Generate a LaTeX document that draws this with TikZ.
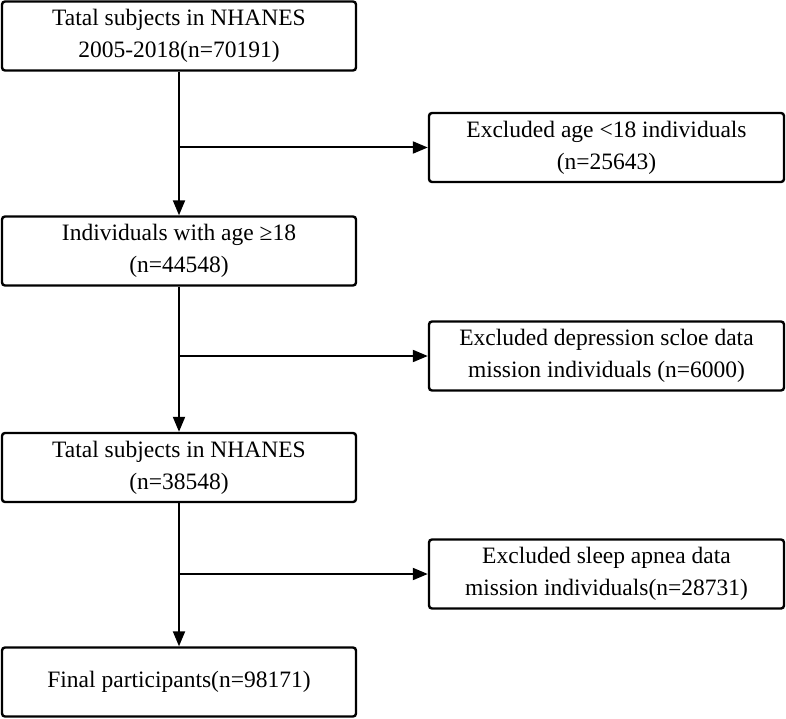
\documentclass[tikz,border=0pt]{standalone}
\usepackage{fontspec}
\setmainfont{Liberation Serif}
\usetikzlibrary{arrows.meta}
\begin{document}
\begin{tikzpicture}[x=1pt,y=-1pt,
  box/.style={draw, line width=2.4pt, rounded corners=3pt, minimum width=354pt, minimum height=69pt,
    inner sep=0pt, align=center, font=\fontsize{23.5}{32}\selectfont},
  arr/.style={line width=2pt, -{Triangle[length=15pt,width=12pt]}},
  ln/.style={line width=2pt}]
\useasboundingbox (0,0) rectangle (786,719);
\node[box] (b1) at (179,36) {Tatal subjects in NHANES\\2005-2018(n=70191)};
\node[box] (b2) at (179,251) {Individuals with age ≥18\\(n=44548)};
\node[box] (b3) at (179,467.5) {Tatal subjects in NHANES\\(n=38548)};
\node[box] (b4) at (179,682) {Final participants(n=98171)};
\node[box, minimum width=355pt] (r1) at (606.5,147.5) {Excluded age <18 individuals\\(n=25643)};
\node[box, minimum width=355pt] (r2) at (606.5,356) {Excluded depression scloe data\\mission individuals (n=6000)};
\node[box, minimum width=355pt] (r3) at (606.5,574) {Excluded sleep apnea data\\mission individuals(n=28731)};
\coordinate (j1) at (b1.south |- r1.west);
\coordinate (j2) at (b2.south |- r2.west);
\coordinate (j3) at (b3.south |- r3.west);
\draw[arr] (b1.south) -- (b2.north);
\draw[arr] (b2.south) -- (b3.north);
\draw[arr] (b3.south) -- (b4.north);
\draw[arr] (j1) -- (r1.west);
\draw[arr] (j2) -- (r2.west);
\draw[arr] (j3) -- (r3.west);
\end{tikzpicture}
\end{document}
